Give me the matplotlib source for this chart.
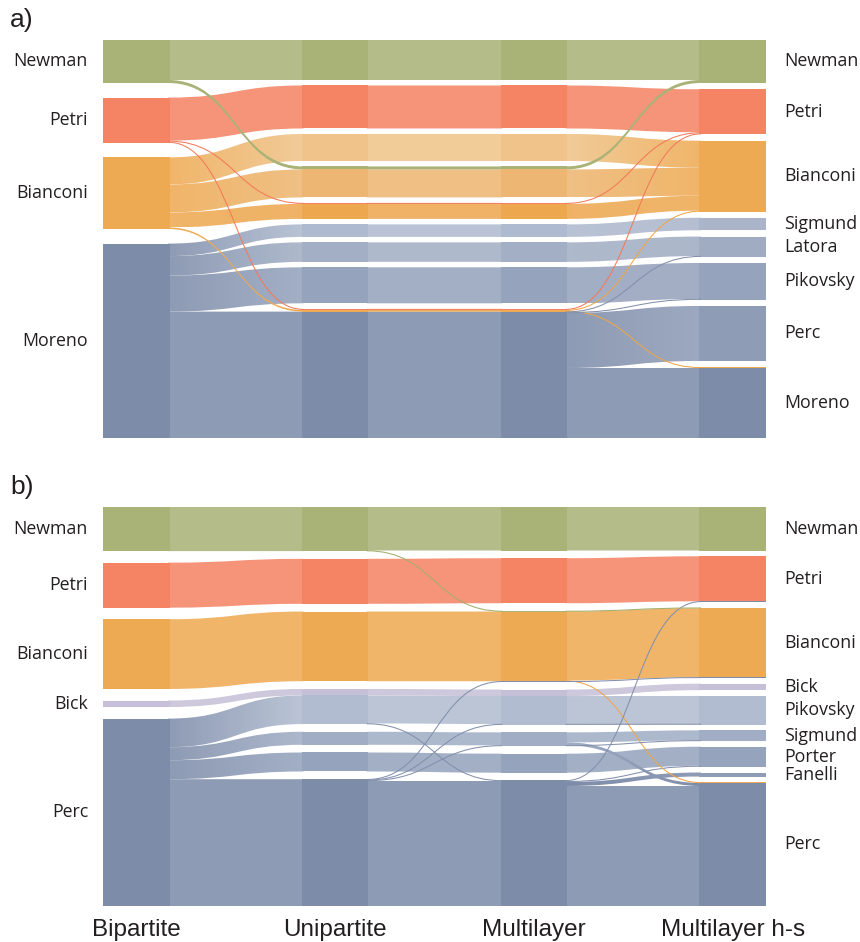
import numpy as np
import matplotlib
matplotlib.use('Agg')
import matplotlib.pyplot as plt
from matplotlib.path import Path
from matplotlib.patches import PathPatch, Rectangle
from matplotlib.colors import to_rgb

columns = ['Bipartite', 'Unipartite', 'Multilayer', 'Multilayer h-s']

group_colors = {'g': '#a9b277', 'r': '#f58465', 'o': '#eeaa53', 'b': '#7d8ca9', 'p': '#c5c0d7'}
line_colors = {'g': '#a3ae6c', 'r': '#f27a5a', 'o': '#efa648', 'b': '#8390ad', 'p': '#b9b3cf'}

# ---- panel a ----
a_left = ['Newman', 'Petri', 'Bianconi', 'Moreno']
a_right = ['Newman', 'Petri', 'Bianconi', 'Sigmund', 'Latora', 'Pikovsky', 'Perc', 'Moreno']
a_mod_groups = [
    ['g', 'r', 'o', 'b'],
    ['g', 'r', 'o', 'o', 'o', 'b', 'b', 'b', 'b'],
    ['g', 'r', 'o', 'o', 'o', 'b', 'b', 'b', 'b'],
    ['g', 'r', 'o', 'b', 'b', 'b', 'b', 'b'],
]
a_mod_colors = [
    ['#a9b277', '#f58465', '#eeaa53', '#7d8ca9'],
    ['#a9b277', '#f58465', '#efc389', '#edb672', '#eda74f', '#aebacf', '#a2afc4', '#95a3bc', '#7d8ca9'],
    ['#a9b277', '#f58465', '#efc389', '#edb672', '#eda74f', '#aebacf', '#a2afc4', '#95a3bc', '#7d8ca9'],
    ['#a9b277', '#f58465', '#eeaa53', '#aab5ca', '#a0acc2', '#96a3bc', '#8e9cb6', '#7d8ca9'],
]
a_st_groups = ['g', 'g', 'r', 'r', 'r', 'o', 'o', 'o', 'o', 'o',
               'b', 'b', 'b', 'b', 'b', 'b', 'b']
a_st_values = [40, 3, 43, 1.0, 1.2, 27, 28, 15, 0.8, 0.8,
               12.5, 19.5, 36, 0.7, 0.7, 55, 70]
a_st_paths = [
    [0, 0, 0, 0], [0, 3, 3, 0],
    [1, 1, 1, 1], [1, 4, 4, 1], [1, 8, 8, 1],
    [2, 2, 2, 2], [2, 3, 3, 2], [2, 4, 4, 2], [2, 8, 8, 2], [2, 8, 8, 7],
    [3, 5, 5, 3], [3, 6, 6, 4], [3, 7, 7, 5], [3, 8, 8, 4], [3, 8, 8, 5],
    [3, 8, 8, 6], [3, 8, 8, 7],
]

# ---- panel b ----
b_left = ['Newman', 'Petri', 'Bianconi', 'Bick', 'Perc']
b_right = ['Newman', 'Petri', 'Bianconi', 'Bick', 'Pikovsky', 'Sigmund', 'Porter', 'Fanelli', 'Perc']
b_mod_groups = [
    ['g', 'r', 'o', 'p', 'b'],
    ['g', 'r', 'o', 'b', 'b', 'b', 'b'],
    ['g', 'r', 'o', 'b', 'b', 'b', 'b'],
    ['g', 'r', 'o', 'p', 'b', 'b', 'b', 'b', 'b'],
]
b_mod_colors = [
    ['#a9b277', '#f58465', '#eeaa53', '#c5c0d7', '#7d8ca9'],
    ['#a9b277', '#f58465', '#eeaa53', '#b1bcd0', '#a0adc4', '#95a3bc', '#7d8ca9'],
    ['#a9b277', '#f58465', '#eeaa53', '#b1bcd0', '#a0adc4', '#95a3bc', '#7d8ca9'],
    ['#a9b277', '#f58465', '#eeaa53', '#c5c0d7', '#b1bcd0', '#a0adc4', '#95a3bc', '#8e9cb6', '#7d8ca9'],
]
b_st_groups = ['g', 'g', 'r', 'o', 'o', 'p', 'b', 'b', 'b', 'b', 'b',
               'b', 'b', 'b', 'b', 'b', 'b']
b_st_values = [43.5, 0.6, 45, 69, 0.7, 6.5, 28, 0.6, 10, 3, 19,
               0.6, 0.6, 0.6, 1.0, 4, 120]
b_st_paths = [
    [0, 0, 0, 0], [0, 0, 2, 2],
    [1, 1, 1, 1],
    [2, 2, 2, 2], [2, 2, 2, 8],
    [3, 3, 3, 3],
    [4, 3, 3, 4], [4, 3, 6, 1], [4, 4, 4, 5], [4, 4, 4, 8], [4, 5, 5, 6],
    [4, 6, 2, 2], [4, 6, 3, 4], [4, 6, 4, 5], [4, 6, 6, 6], [4, 6, 6, 7], [4, 6, 6, 8],
]

BAR_W = 0.335
EXT = 0.008   # flows reach a little under the bars so no seam shows
TXT = '#231f20'


def lighten(c, f=0.13):
    c = np.array(to_rgb(c))
    return c + (1 - c) * f


def draw_panel(ax, H, mod_groups, mod_colors, st_groups, st_values, st_paths, left, right):
    ncol = len(mod_groups)
    seg = {}
    mpos = []
    for c in range(ncol):
        n = len(mod_groups[c])
        sizes = [sum(v for v, p in zip(st_values, st_paths) if p[c] == m) for m in range(n)]
        gap = (H - sum(sizes)) / (n - 1)
        y = 0.0
        pos = []
        for m in range(n):
            pos.append((y, y + sizes[m]))
            yy = y
            for i, p in enumerate(st_paths):
                if p[c] == m:
                    seg[i, c] = (yy, yy + st_values[i])
                    yy += st_values[i]
            y += sizes[m] + gap
        mpos.append(pos)

    def seg_color(i, c):
        m = st_paths[i][c]
        if st_groups[i] == mod_groups[c][m]:
            return mod_colors[c][m]
        return group_colors[st_groups[i]]

    # merge neighbouring streams into bands
    bands = []
    for c in range(ncol - 1):
        cur = None
        for i in range(len(st_paths)):
            key = (st_paths[i][c], st_paths[i][c + 1], seg_color(i, c), seg_color(i, c + 1))
            a0, a1 = seg[i, c]
            b0, b1 = seg[i, c + 1]
            if cur and cur['key'] == key and abs(cur['a'][1] - a0) < 1e-9 and abs(cur['b'][1] - b0) < 1e-9:
                cur['a'][1] = a1
                cur['b'][1] = b1
            else:
                cur = {'key': key, 'c': c, 'a': [a0, a1], 'b': [b0, b1], 'g': st_groups[i]}
                bands.append(cur)

    bands.sort(key=lambda b: -(b['a'][1] - b['a'][0]))
    for b in bands:
        c = b['c']
        x0, x1 = c + BAR_W - EXT, c + 1 + EXT
        xm = (x0 + x1) / 2
        a0, a1 = b['a']
        b0, b1 = b['b']
        if a1 - a0 < 1.5:
            am, bm = (a0 + a1) / 2, (b0 + b1) / 2
            p = Path([(x0, am), (xm, am), (xm, bm), (x1, bm)],
                     [Path.MOVETO, Path.CURVE4, Path.CURVE4, Path.CURVE4])
            ax.add_patch(PathPatch(p, fc='none', ec=line_colors[b['g']], lw=0.75, zorder=4))
            continue
        verts = [(x0, a0), (xm, a0), (xm, b0), (x1, b0), (x1, b1),
                 (xm, b1), (xm, a1), (x0, a1), (x0, a0)]
        codes = [Path.MOVETO, Path.CURVE4, Path.CURVE4, Path.CURVE4, Path.LINETO,
                 Path.CURVE4, Path.CURVE4, Path.CURVE4, Path.CLOSEPOLY]
        f = 0.13 if a1 - a0 > 4 else 0.0
        ca, cb = lighten(b['key'][2], f), lighten(b['key'][3], f)
        if np.allclose(ca, cb):
            ax.add_patch(PathPatch(Path(verts, codes), fc=ca, lw=0, zorder=2))
        else:
            patch = PathPatch(Path(verts, codes), fc='none', lw=0, zorder=2)
            ax.add_patch(patch)
            t = np.linspace(0, 1, 64)[:, None]
            grad = (ca[None, :] * (1 - t) + cb[None, :] * t)[None, :, :]
            im = ax.imshow(grad, extent=(x0, x1, max(a1, b1), min(a0, b0)),
                           aspect='auto', interpolation='bilinear', zorder=2)
            im.set_clip_path(patch)

    # module bars
    for c in range(ncol):
        for m, (y0, y1) in enumerate(mpos[c]):
            ax.add_patch(Rectangle((c, y0), BAR_W, y1 - y0, fc=mod_colors[c][m], lw=0, zorder=3))
        for i in range(len(st_paths)):
            m = st_paths[i][c]
            if st_groups[i] != mod_groups[c][m]:
                y0, y1 = seg[i, c]
                h = max(y1 - y0, 0.9)
                ym = (y0 + y1) / 2
                ax.add_patch(Rectangle((c, ym - h / 2), BAR_W, h,
                                       fc=group_colors[st_groups[i]], lw=0, zorder=3))

    for lab, (y0, y1) in zip(left, mpos[0]):
        ax.text(-0.075, (y0 + y1) / 2, lab, ha='right', va='center', fontsize=12.8,
                family='Open Sans', color=TXT)
    for lab, (y0, y1) in zip(right, mpos[-1]):
        ax.text(3 + BAR_W + 0.09, (y0 + y1) / 2, lab, ha='left', va='center', fontsize=12.8,
                family='Open Sans', color=TXT)

    ax.set_xlim(0, 3 + BAR_W)
    ax.set_ylim(H, 0)
    ax.axis('off')


fig = plt.figure(figsize=(8.6, 9.42), dpi=100)
ax1 = fig.add_axes([103 / 860, 1 - 438 / 942, 663 / 860, 398 / 942])
ax2 = fig.add_axes([103 / 860, 1 - 906 / 942, 663 / 860, 399 / 942])

draw_panel(ax1, 398, a_mod_groups, a_mod_colors, a_st_groups, a_st_values, a_st_paths, a_left, a_right)
draw_panel(ax2, 399, b_mod_groups, b_mod_colors, b_st_groups, b_st_values, b_st_paths, b_left, b_right)

for c, name in enumerate(columns):
    ax2.text(c + BAR_W / 2, 423, name, ha='center', va='center', fontsize=17.5,
             family='Liberation Sans', color=TXT)

fig.text(10 / 860, 1 - 20 / 942, 'a)', ha='left', va='center', fontsize=19,
         family='Liberation Sans', color=TXT)
fig.text(10 / 860, 1 - 487 / 942, 'b)', ha='left', va='center', fontsize=19,
         family='Liberation Sans', color=TXT)

fig.savefig('out.png', dpi=100)
